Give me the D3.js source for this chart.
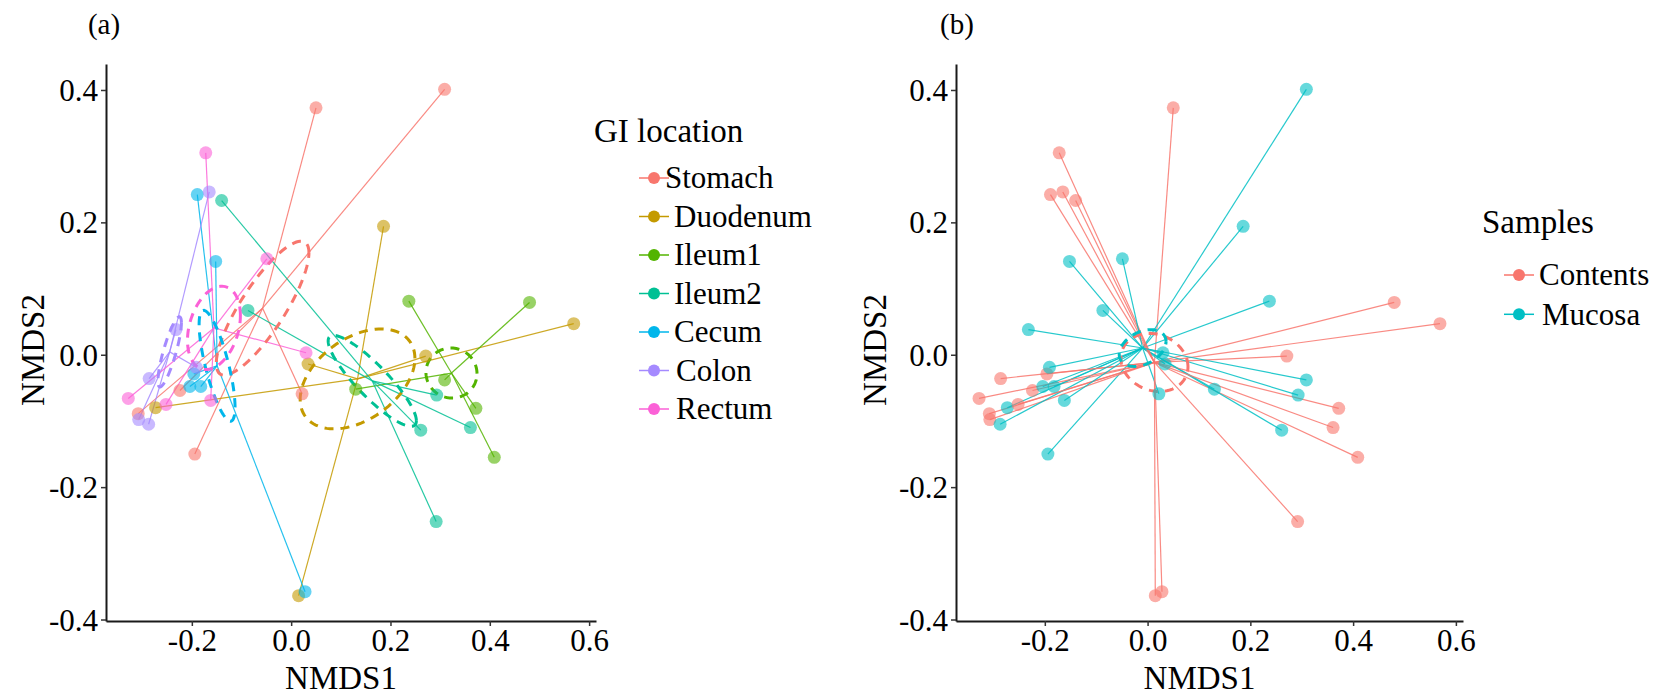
<!DOCTYPE html>
<html>
<head>
<meta charset="utf-8">
<script src="https://cdn.jsdelivr.net/npm/d3@7/dist/d3.min.js"></script>
<style>
  html, body { margin: 0; padding: 0; background: #fff; }
  svg { display: block; }
  text { font-family: "Liberation Serif", "Times New Roman", Times, serif; fill: #000; }
</style>
</head>
<body>
<svg id="chart" width="1663" height="697"></svg>
<script>
// NMDS ordination of gut samples: 7 GI locations x 6 samples, contents vs mucosa
const locations = ["Stomach", "Duodenum", "Ileum1", "Ileum2", "Cecum", "Colon", "Rectum"];
const sampleTypes = ["Contents", "Mucosa"];

const locationColors = ["#F8766D", "#C49A00", "#53B400", "#00C094", "#00B6EB", "#A58AFF", "#FB61D7"];
const sampleColors = ["#F8766D", "#00BFC4"];

// sample scores (NMDS1, NMDS2) with their GI location and sample type
const nmds1 = [
   0.050,  0.309, -0.224, -0.308, -0.194,  0.022,   // Stomach
   0.186,  0.569,  0.271,  0.034, -0.273,  0.015,   // Duodenum
   0.237,  0.480,  0.309,  0.130,  0.372,  0.409,   // Ileum1
  -0.140, -0.087,  0.293,  0.261,  0.361,  0.292,   // Ileum2
  -0.189, -0.152, -0.196, -0.204, -0.182,  0.028,   // Cecum
  -0.165, -0.232, -0.191, -0.286, -0.307, -0.287,   // Colon
  -0.172, -0.049,  0.030, -0.328, -0.252, -0.162    // Rectum
];
const nmds2 = [
   0.373,  0.401, -0.054, -0.089, -0.150, -0.059,
   0.194,  0.047, -0.002, -0.014, -0.080, -0.364,
   0.081,  0.079, -0.038, -0.052, -0.081, -0.155,
   0.233,  0.067, -0.061, -0.114, -0.110, -0.252,
   0.242,  0.141, -0.029, -0.048, -0.048, -0.358,
   0.246,  0.038, -0.019, -0.036, -0.098, -0.105,
   0.305,  0.145,  0.003, -0.066, -0.075, -0.069
];
const sampleLocation = [
  "Stomach", "Stomach", "Stomach", "Stomach", "Stomach", "Stomach",
  "Duodenum", "Duodenum", "Duodenum", "Duodenum", "Duodenum", "Duodenum",
  "Ileum1", "Ileum1", "Ileum1", "Ileum1", "Ileum1", "Ileum1",
  "Ileum2", "Ileum2", "Ileum2", "Ileum2", "Ileum2", "Ileum2",
  "Cecum", "Cecum", "Cecum", "Cecum", "Cecum", "Cecum",
  "Colon", "Colon", "Colon", "Colon", "Colon", "Colon",
  "Rectum", "Rectum", "Rectum", "Rectum", "Rectum", "Rectum"
];
const sampleType = [
  "Contents", "Mucosa", "Contents", "Contents", "Mucosa", "Mucosa",
  "Mucosa", "Contents", "Contents", "Mucosa", "Mucosa", "Contents",
  "Mucosa", "Contents", "Mucosa", "Mucosa", "Contents", "Contents",
  "Contents", "Mucosa", "Mucosa", "Mucosa", "Contents", "Contents",
  "Contents", "Mucosa", "Contents", "Mucosa", "Mucosa", "Contents",
  "Contents", "Mucosa", "Mucosa", "Contents", "Contents", "Mucosa",
  "Contents", "Mucosa", "Mucosa", "Contents", "Contents", "Mucosa"
];

const xTicks = [-0.2, 0.0, 0.2, 0.4, 0.6];
const yTicks = [-0.4, -0.2, 0.0, 0.2, 0.4];

const samples = nmds1.map((x, i) => ({ x, y: nmds2[i], loc: sampleLocation[i], type: sampleType[i] }));

const svg = d3.select("#chart");
svg.append("rect").attr("width", 1663).attr("height", 697).attr("fill", "#fff");

// ggplot-style 5% expansion of the data range
function expand(ext) { const p = (ext[1] - ext[0]) * 0.05; return [ext[0] - p, ext[1] + p]; }
const xDomain = expand(d3.extent(nmds1));
const yDomain = expand(d3.extent(nmds2));

const plotTop = 64, plotBottom = 621;
const fmt = d => d.toFixed(1);

// standard-error ellipse of a group (covariance / n, 1 s.e.)
function seEllipse(pts) {
  const n = pts.length;
  const mx = d3.mean(pts, d => d.x), my = d3.mean(pts, d => d.y);
  let sxx = 0, syy = 0, sxy = 0;
  pts.forEach(d => { sxx += (d.x - mx) ** 2; syy += (d.y - my) ** 2; sxy += (d.x - mx) * (d.y - my); });
  sxx /= (n - 1) * n; syy /= (n - 1) * n; sxy /= (n - 1) * n;
  // Cholesky factor of the covariance
  const a = Math.sqrt(sxx), b = sxy / a, c = Math.sqrt(Math.max(syy - b * b, 0));
  return d3.range(0, 101).map(k => {
    const t = k / 100 * 2 * Math.PI;
    const u = Math.cos(t), v = Math.sin(t);
    return [mx + a * u, my + b * u + c * v];
  });
}

function drawPanel(cfg) {
  const x = d3.scaleLinear().domain(xDomain).range([cfg.left, cfg.right]);
  const y = d3.scaleLinear().domain(yDomain).range([plotBottom, plotTop]);
  const g = svg.append("g");

  const groups = d3.group(samples, d => d[cfg.key]);
  const cent = new Map();
  cfg.levels.forEach(l => {
    const pts = groups.get(l);
    cent.set(l, [d3.mean(pts, d => d.x), d3.mean(pts, d => d.y)]);
  });

  // spider segments from each sample to its group centroid
  g.append("g").selectAll("line")
    .data(samples)
    .join("line")
    .attr("x1", d => x(d.x)).attr("y1", d => y(d.y))
    .attr("x2", d => x(cent.get(d[cfg.key])[0]))
    .attr("y2", d => y(cent.get(d[cfg.key])[1]))
    .attr("stroke", d => cfg.colors[cfg.levels.indexOf(d[cfg.key])])
    .attr("stroke-width", 1.2)
    .attr("stroke-opacity", 0.85);

  // dashed s.e. ellipses
  const line = d3.line().x(d => x(d[0])).y(d => y(d[1]));
  g.append("g").selectAll("path")
    .data(cfg.levels)
    .join("path")
    .attr("d", l => line(seEllipse(groups.get(l))))
    .attr("fill", "none")
    .attr("stroke", (l, i) => cfg.colors[i])
    .attr("stroke-width", 3)
    .attr("stroke-dasharray", "9,7");

  // sample points
  g.append("g").selectAll("circle")
    .data(samples)
    .join("circle")
    .attr("cx", d => x(d.x)).attr("cy", d => y(d.y))
    .attr("r", 6.5)
    .attr("fill", d => cfg.colors[cfg.levels.indexOf(d[cfg.key])])
    .attr("fill-opacity", 0.6);

  // axes
  const xAxis = g.append("g").attr("transform", `translate(0,${plotBottom})`)
    .call(d3.axisBottom(x).tickValues(xTicks).tickFormat(fmt).tickSize(5).tickSizeOuter(0));
  const yAxis = g.append("g").attr("transform", `translate(${cfg.left},0)`)
    .call(d3.axisLeft(y).tickValues(yTicks).tickFormat(fmt).tickSize(5).tickSizeOuter(0));
  [xAxis, yAxis].forEach(a => {
    a.select(".domain").attr("stroke", "#1a1a1a").attr("stroke-width", 2);
    a.selectAll(".tick line").attr("stroke", "#333").attr("stroke-width", 1.5);
    a.selectAll(".tick text").attr("font-family", "Liberation Serif").attr("font-size", 31).attr("fill", "#000");
  });
  xAxis.selectAll(".tick text").attr("dy", null).attr("y", 30);
  yAxis.selectAll(".tick text").attr("x", -8).attr("dy", "0.34em");

  // axis titles
  g.append("text").attr("x", (cfg.left + cfg.right) / 2 - 10).attr("y", 689)
    .attr("text-anchor", "middle").attr("font-size", 33).text("NMDS1");
  g.append("text").attr("transform", `translate(${cfg.ytitleX},350) rotate(-90)`)
    .attr("text-anchor", "middle").attr("font-size", 33).text("NMDS2");

  // panel tag
  g.append("text").attr("x", cfg.tagX).attr("y", 34).attr("text-anchor", "middle")
    .attr("font-size", 29).text(cfg.tag);

  // legend
  const lg = g.append("g");
  lg.append("text").attr("x", cfg.legX).attr("y", cfg.legY).attr("font-size", 33).text(cfg.legTitle);
  cfg.levels.forEach((l, i) => {
    const cy = cfg.legY + cfg.firstGap + i * cfg.step;
    lg.append("line").attr("x1", cfg.keyX).attr("x2", cfg.keyX + 30).attr("y1", cy).attr("y2", cy)
      .attr("stroke", cfg.colors[i]).attr("stroke-width", 1.5);
    lg.append("circle").attr("cx", cfg.keyX + 15).attr("cy", cy).attr("r", 6).attr("fill", cfg.colors[i]);
    lg.append("text").attr("x", cfg.keyX + cfg.labelGap[i]).attr("y", cy).attr("dy", "0.33em")
      .attr("font-size", 31).text(l);
  });
}

drawPanel({
  left: 106, right: 596, key: "loc", levels: locations, colors: locationColors,
  tag: "(a)", tagX: 104, ytitleX: 44,
  legTitle: "GI location", legX: 594, legY: 142, keyX: 639, firstGap: 36, step: 38.5,
  labelGap: [26, 35, 35, 35, 35, 37, 37]
});
drawPanel({
  left: 956, right: 1463, key: "type", levels: sampleTypes, colors: sampleColors,
  tag: "(b)", tagX: 957, ytitleX: 886,
  legTitle: "Samples", legX: 1482, legY: 233, keyX: 1504, firstGap: 42, step: 39.3,
  labelGap: [35, 38]
});
</script>
</body>
</html>
